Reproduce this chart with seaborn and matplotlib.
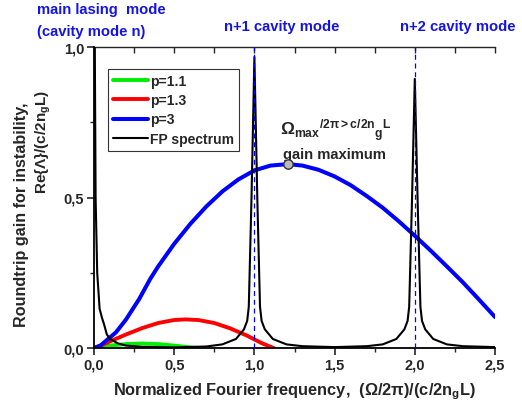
import matplotlib
matplotlib.use("Agg")
import matplotlib.pyplot as plt
import seaborn as sns
from matplotlib.ticker import MultipleLocator, FuncFormatter

# ---------------- data ----------------
green_x = [0.0, 0.05, 0.1, 0.2, 0.3, 0.4, 0.5, 0.6, 0.65]
green_y = [0.0, 0.004, 0.008, 0.013, 0.015, 0.013, 0.008, 0.002, 0.0]

red_x = [0.0, 0.05, 0.1, 0.2, 0.3, 0.4, 0.5, 0.57, 0.65, 0.75, 0.85, 0.95, 1.05, 1.12]
red_y = [0.0, 0.01, 0.022, 0.045, 0.066, 0.083, 0.093, 0.095, 0.093, 0.083, 0.065, 0.042, 0.015, 0.0]

blue_x = [0.0, 0.04, 0.075, 0.137, 0.2, 0.282, 0.35, 0.4, 0.5, 0.6, 0.7, 0.8, 0.9, 1.0,
          1.1, 1.21, 1.3, 1.4, 1.5, 1.6, 1.7, 1.8, 1.9, 2.0, 2.1, 2.2, 2.3, 2.4, 2.5]
blue_y = [0.0, 0.008, 0.024, 0.052, 0.095, 0.163, 0.229, 0.271, 0.346, 0.412, 0.470, 0.520,
          0.560, 0.590, 0.606, 0.611, 0.606, 0.592, 0.570, 0.541, 0.505, 0.466, 0.421, 0.373,
          0.323, 0.271, 0.218, 0.161, 0.103]

fp_x = [0.0, 0.01, 0.02, 0.035, 0.05, 0.062, 0.08, 0.1, 0.15, 0.2, 0.3, 0.5,
        0.7, 0.8, 0.885, 0.935, 0.955, 0.965, 0.982, 1.0, 1.018, 1.035, 1.045, 1.065, 1.115,
        1.2, 1.3, 1.5, 1.7, 1.8, 1.885, 1.935, 1.955, 1.965, 1.982, 2.0, 2.018, 2.035, 2.045,
        2.065, 2.115, 2.2, 2.3, 2.5]
fp_y = [1.5, 0.5, 0.25, 0.13, 0.1, 0.08, 0.045, 0.03, 0.015, 0.008, 0.004, 0.002,
        0.005, 0.012, 0.03, 0.062, 0.09, 0.137, 0.5, 0.967, 0.5, 0.137, 0.09, 0.062, 0.03,
        0.012, 0.006, 0.003, 0.006, 0.012, 0.03, 0.062, 0.09, 0.137, 0.48, 0.894, 0.48, 0.137, 0.09,
        0.062, 0.03, 0.012, 0.006, 0.003]

gain_max_x = [1.21]
gain_max_y = [0.611]
mode_lines = [1.0, 2.0]

# ---------------- style ----------------
sns.set_style("white")
plt.rcParams['font.family'] = ['Liberation Sans', 'DejaVu Sans']
plt.rcParams['font.weight'] = 'bold'
plt.rcParams['mathtext.fontset'] = 'custom'
plt.rcParams['mathtext.rm'] = 'Liberation Sans:bold'
plt.rcParams['mathtext.it'] = 'Liberation Sans:bold'
plt.rcParams['mathtext.bf'] = 'Liberation Sans:bold'
plt.rcParams['mathtext.sf'] = 'Liberation Sans:bold'

W, H = 522, 414
fig = plt.figure(figsize=(W / 100, H / 100), dpi=100)
L, R, T, B = 94, 495, 48, 349
ax = fig.add_axes([L / W, 1 - B / H, (R - L) / W, (B - T) / H])

sns.lineplot(x=green_x, y=green_y, ax=ax, color='#00ee00', lw=2.8, label='p=1.1', sort=False)
sns.lineplot(x=red_x, y=red_y, ax=ax, color='#ff0000', lw=2.8, label='p=1.3', sort=False)
sns.lineplot(x=blue_x, y=blue_y, ax=ax, color='#0000ff', lw=2.9, label='p=3', sort=False)
sns.lineplot(x=fp_x, y=fp_y, ax=ax, color='black', lw=1.5, label='FP spectrum', sort=False)
for xv in mode_lines:
    ax.axvline(xv, color='#0000ff', lw=0.9, ls=(0, (4, 3)), zorder=5)
ax.scatter(gain_max_x, gain_max_y, s=45, color='#bbbbbb', edgecolor='#333333', linewidth=1.0, zorder=6)

ax.set_xlim(0, 2.5)
ax.set_ylim(0, 1.0)

comma = FuncFormatter(lambda v, p: f"{v:.1f}".replace('.', ','))
ax.xaxis.set_major_locator(MultipleLocator(0.5))
ax.xaxis.set_minor_locator(MultipleLocator(0.25))
ax.yaxis.set_major_locator(MultipleLocator(0.5))
ax.yaxis.set_minor_locator(MultipleLocator(0.25))
ax.xaxis.set_major_formatter(comma)
ax.yaxis.set_major_formatter(comma)
ax.tick_params(axis='both', which='major', direction='out', length=5, width=1.2,
               labelsize=10.5, pad=2, bottom=True, left=True)
ax.tick_params(axis='both', which='minor', direction='out', length=3, width=1.0,
               bottom=True, left=True)
for lab in ax.get_xticklabels() + ax.get_yticklabels():
    lab.set_fontweight('bold')

for s in ['right', 'top']:
    ax.spines[s].set_visible(False)
for s in ['left', 'bottom']:
    ax.spines[s].set_linewidth(1.3)
    ax.spines[s].set_color('black')

top = ax.secondary_xaxis('top')
top.xaxis.set_major_locator(MultipleLocator(0.5))
top.xaxis.set_minor_locator(MultipleLocator(0.25))
top.tick_params(which='both', direction='in', length=4, width=1.0, labeltop=False)
top.spines['top'].set_linewidth(1.0)

ax.set_xlabel('')
ax.set_ylabel('')

leg = ax.legend(loc='upper left', bbox_to_anchor=((108 - L) / (R - L), 1 - (70 - T) / (B - T)),
                frameon=True, fancybox=False, edgecolor='black', fontsize=10,
                handlelength=2.5, handletextpad=0.2, labelspacing=0.38,
                borderpad=0.35, borderaxespad=0)
leg.get_frame().set_linewidth(0.8)
for t in leg.get_texts():
    t.set_fontweight('bold')

# annotation
ax.text((280 - L) / (R - L) * 2.5, (349 - 136) / 301, r"$\Omega_{max}{}^{/2\pi>c/2n}{}_{g}{}^{L}$",
        fontsize=12.5, ha='left', va='baseline')
ax.text((283 - L) / (R - L) * 2.5, (349 - 159) / 301, "gain maximum",
        fontsize=10.6, fontweight='bold', ha='left', va='baseline')

blue = '#1414e6'
fs_blue = 10.6
fig.text(37 / W, 1 - 3 / H, "main lasing  mode", color=blue, fontsize=fs_blue, fontweight='bold', va='top', ha='left')
fig.text(37 / W, 1 - 25 / H, "(cavity mode n)", color=blue, fontsize=fs_blue, fontweight='bold', va='top', ha='left')
fig.text(224 / W, 1 - 20 / H, "n+1 cavity mode", color=blue, fontsize=fs_blue, fontweight='bold', va='top', ha='left')
fig.text(400 / W, 1 - 20 / H, "n+2 cavity mode", color=blue, fontsize=fs_blue, fontweight='bold', va='top', ha='left')

fig.text(294 / W, 1 - 392 / H, r"Normalized Fourier frequency,  (Ω/2π)/(c/2n$_\mathregular{g}$L)",
         fontsize=11.8, fontweight='bold', ha='center', va='center')
fig.text(22 / W, 1 - 215 / H, "Roundtrip gain for instability,", rotation=90,
         fontsize=11.6, fontweight='bold', ha='center', va='center')
fig.text(43 / W, 1 - 142 / H, r"Re{Λ}/(c/2n$_\mathregular{g}$L)", rotation=90,
         fontsize=11, fontweight='bold', ha='center', va='center')

fig.savefig("out.png", dpi=100)
